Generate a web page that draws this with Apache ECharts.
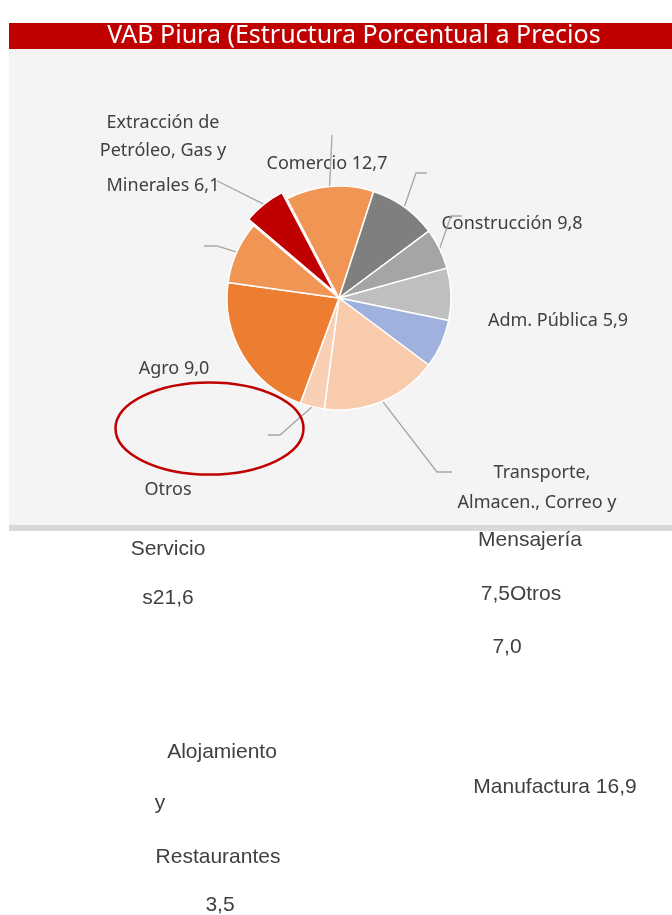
<!DOCTYPE html>
<html>
<head>
<meta charset="utf-8">
<title>VAB Piura</title>
<script src="https://cdn.jsdelivr.net/npm/echarts@6/dist/echarts.min.js"></script>
<style>
  html, body { margin: 0; padding: 0; background: #fff; }
  #chart { width: 672px; height: 915px; }
</style>
</head>
<body>
<div id="chart"></div>
<script>
// datos (estructura porcentual del VAB)
const categories = ['Comercio', 'Construcción', 'Adm. Pública',
  'Transporte, Almacen., Correo y Mensajería', 'Otros', 'Manufactura',
  'Alojamiento y Restaurantes', 'Servicios', 'Agro',
  'Extracción de Petróleo, Gas y Minerales'];
const values = [12.7, 9.8, 5.9, 7.5, 7.0, 16.9, 3.5, 21.6, 9.0, 6.1];
const colors = ['#F09553', '#7F7F7F', '#A5A5A5', '#BFBFBF', '#9FB1DC',
  '#F8CBAD', '#F9CFB3', '#ED7D31', '#F09553', '#C00000'];

const fmt = i => values[i].toFixed(1).replace('.', ',');

// extremo de cada línea guía: [x, y, lado, length2]
const leaderEnds = [
  [332, 135, 'bottom', 0],
  [427, 173, 'left', 11],
  [462, 216, 'left', 11],
  null,
  null,
  [452, 472, 'left', 15],
  [268, 435, 'right', 12],
  null,
  [204, 246, 'right', 13],
  [222, 187, 'right', 0]
];

// etiquetas dentro del área del gráfico
const boxLabels = [
  ['Extracción de', 163, 123],
  ['Petróleo, Gas y', 163, 151],
  ['Minerales ' + fmt(9), 163, 186],
  ['Comercio ' + fmt(0), 327, 164],
  ['Construcción ' + fmt(1), 512, 224],
  ['Adm. Pública ' + fmt(2), 558, 321],
  ['Agro ' + fmt(8), 174, 369],
  ['Otros', 168, 490],
  ['Transporte,', 542, 473],
  ['Almacen., Correo y', 537, 503]
];
// texto que se desborda fuera del gráfico
const spillLabels = [
  ['Mensajería', 530, 540],
  ['Servicio', 168, 549],
  ['s' + fmt(7), 168, 598],
  [fmt(3) + 'Otros', 521, 594],
  [fmt(4), 507, 647],
  ['Alojamiento', 222, 752],
  ['y', 160, 803],
  ['Restaurantes', 218, 857],
  [fmt(6), 220, 905],
  ['Manufactura ' + fmt(5), 555, 787]
];

const chart = echarts.init(document.getElementById('chart'));

const graphic = [
  { type: 'rect', shape: { x: 9, y: 23, width: 663, height: 26 }, style: { fill: '#C00000' } },
  { type: 'rect', shape: { x: 9, y: 49, width: 663, height: 476 }, style: { fill: '#F4F4F4' } },
  { type: 'rect', shape: { x: 9, y: 525, width: 663, height: 6 }, style: { fill: '#D9D9D9' } },
  {
    type: 'text', x: 354, y: 36,
    style: { text: 'VAB Piura (Estructura Porcentual a Precios', fill: '#fff',
      font: '25px "Noto Sans"', align: 'center', verticalAlign: 'middle' }
  },
  {
    type: 'ellipse', shape: { cx: 209.5, cy: 428.5, rx: 94, ry: 46 },
    style: { fill: 'none', stroke: '#C00000', lineWidth: 2.5 }, z: 10
  }
];
boxLabels.forEach(l => graphic.push({
  type: 'text', x: l[1], y: l[2],
  style: { text: l[0], fill: '#404040', font: '18px "Noto Sans"', align: 'center', verticalAlign: 'middle' }
}));
spillLabels.forEach(l => graphic.push({
  type: 'text', x: l[1], y: l[2],
  style: { text: l[0], fill: '#404040', font: '21px "Liberation Sans"', align: 'center', verticalAlign: 'middle' }
}));

const option = {
  backgroundColor: '#fff',
  animation: false,
  graphic: graphic,
  series: [
    {
      type: 'pie',
      center: [339, 298],
      radius: 112,
      startAngle: 117.7,
      clockwise: true,
      avoidLabelOverlap: false,
      selectedMode: 'single',
      selectedOffset: 8,
      emphasis: { disabled: true },
      itemStyle: { borderColor: '#fff', borderWidth: 1.5 },
      // etiqueta invisible: solo marca el extremo de la línea guía
      label: {
        show: true,
        position: 'outside',
        formatter: ' ',
        fontSize: 1,
        lineHeight: 1,
        padding: [0, 40],
        color: 'rgba(0,0,0,0)'
      },
      labelLine: { show: true, minTurnAngle: 20, lineStyle: { color: '#A6A6A6', width: 1.3 } },
      labelLayout: function (params) {
        const e = leaderEnds[params.dataIndex];
        if (!e) return {};
        return {
          x: e[0],
          y: e[1],
          align: e[2] === 'bottom' ? 'center' : e[2],
          verticalAlign: e[2] === 'bottom' ? 'bottom' : 'middle'
        };
      },
      data: categories.map((name, i) => ({
        name: name,
        value: values[i],
        selected: i === 9,
        itemStyle: { color: colors[i] },
        label: { show: !!leaderEnds[i] },
        labelLine: { show: !!leaderEnds[i], length2: leaderEnds[i] ? leaderEnds[i][3] : 0 }
      }))
    }
  ]
};

chart.setOption(option);
</script>
</body>
</html>
